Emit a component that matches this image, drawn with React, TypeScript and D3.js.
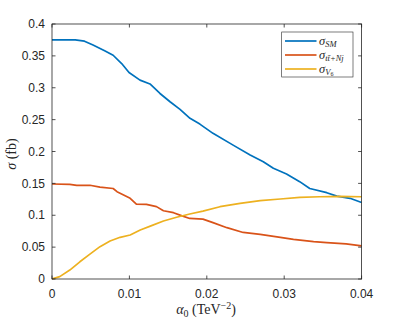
import React from "react";
import * as d3 from "d3";

const smAlpha = [0, 0.003, 0.0042, 0.0053, 0.0068, 0.0079, 0.009, 0.00995, 0.01137, 0.01266, 0.01395, 0.01525, 0.01654, 0.01783, 0.0191, 0.0208, 0.0234, 0.0256, 0.0273, 0.0286, 0.0303, 0.032, 0.0333, 0.0355, 0.0368, 0.0385, 0.04];
const smSigma = [0.375, 0.375, 0.373, 0.367, 0.358, 0.351, 0.338, 0.324, 0.312, 0.306, 0.291, 0.278, 0.266, 0.252, 0.243, 0.2285, 0.21, 0.1945, 0.184, 0.1736, 0.1647, 0.1527, 0.142, 0.1354, 0.13, 0.1266, 0.12];

const ttAlpha = [0, 0.0023, 0.0032, 0.0049, 0.0062, 0.0079, 0.0084, 0.0101, 0.0109, 0.0122, 0.0135, 0.0144, 0.0157, 0.0168, 0.0178, 0.0195, 0.0208, 0.0226, 0.0247, 0.0269, 0.0295, 0.0312, 0.0338, 0.0355, 0.038, 0.04];
const ttSigma = [0.149, 0.1485, 0.147, 0.147, 0.144, 0.142, 0.137, 0.1266, 0.1176, 0.117, 0.1135, 0.107, 0.104, 0.099, 0.095, 0.094, 0.0884, 0.0805, 0.073, 0.07, 0.0654, 0.0622, 0.0586, 0.057, 0.055, 0.052];

const vsAlpha = [0, 0.001, 0.0023, 0.0036, 0.0049, 0.0062, 0.0075, 0.0088, 0.0101, 0.0114, 0.0127, 0.0144, 0.0161, 0.0178, 0.0195, 0.0217, 0.0243, 0.0269, 0.0295, 0.032, 0.0346, 0.0372, 0.04];
const vsSigma = [0, 0.0037, 0.014, 0.027, 0.039, 0.0507, 0.0596, 0.0654, 0.069, 0.0769, 0.083, 0.091, 0.0968, 0.102, 0.1065, 0.1134, 0.1187, 0.1228, 0.1255, 0.128, 0.129, 0.1297, 0.129];

const xTicks = [0, 0.01, 0.02, 0.03, 0.04];
const xTickLabels = ["0", "0.01", "0.02", "0.03", "0.04"];
const yTicks = [0, 0.05, 0.1, 0.15, 0.2, 0.25, 0.3, 0.35, 0.4];
const yTickLabels = ["0", "0.05", "0.1", "0.15", "0.2", "0.25", "0.3", "0.35", "0.4"];

const colors = ["#0072BD", "#D95319", "#EDB120"];

export default function App() {
  const W = 399, H = 319;
  const L = 52, R = 361.6, T = 24, B = 279;
  const x = d3.scaleLinear().domain([0, 0.04]).range([L, R]);
  const y = d3.scaleLinear().domain([0, 0.4]).range([B, T]);
  const line = d3.line<[number, number]>().x(d => x(d[0])).y(d => y(d[1])).curve(d3.curveLinear);
  const series = [
    smAlpha.map((a, i) => [a, smSigma[i]] as [number, number]),
    ttAlpha.map((a, i) => [a, ttSigma[i]] as [number, number]),
    vsAlpha.map((a, i) => [a, vsSigma[i]] as [number, number]),
  ];
  const axisColor = "#262626";
  const tickLen = 3.5;
  const sans = "'Liberation Sans', Arial, Helvetica, sans-serif";
  const serif = "'Liberation Serif', 'DejaVu Serif', serif";
  const legendRows = [41, 55, 69];
  return (
    <svg width={W} height={H} style={{ position: "absolute", left: 0, top: 0 }}>
      <rect x={0} y={0} width={W} height={H} fill="#fff" />
      <rect x={L} y={T} width={R - L} height={B - T} fill="#fff" />
      <clipPath id="clip"><rect x={L} y={T - 2} width={R - L + 2} height={B - T + 4} /></clipPath>
      <g clipPath="url(#clip)">
        {series.map((s, i) => (
          <path key={i} d={line(s) || ""} fill="none" stroke={colors[i]} strokeWidth={1.7} strokeLinejoin="round" />
        ))}
      </g>
      <rect x={L} y={T} width={R - L} height={B - T} fill="none" stroke={axisColor} strokeWidth={0.8} />
      {xTicks.map((t, i) => (
        <g key={"xt" + i}>
          <line x1={x(t)} x2={x(t)} y1={B} y2={B - tickLen} stroke={axisColor} strokeWidth={0.8} />
          <line x1={x(t)} x2={x(t)} y1={T} y2={T + tickLen} stroke={axisColor} strokeWidth={0.8} />
          <text x={x(t)} y={298} textAnchor="middle" fontFamily={sans} fontSize={12} fill={axisColor}>{xTickLabels[i]}</text>
        </g>
      ))}
      {yTicks.map((t, i) => (
        <g key={"yt" + i}>
          <line x1={L} x2={L + tickLen} y1={y(t)} y2={y(t)} stroke={axisColor} strokeWidth={0.8} />
          <line x1={R} x2={R - tickLen} y1={y(t)} y2={y(t)} stroke={axisColor} strokeWidth={0.8} />
          <text x={45} y={y(t) + 4.2} textAnchor="end" fontFamily={sans} fontSize={12} fill={axisColor}>{yTickLabels[i]}</text>
        </g>
      ))}
      <text x={206} y={314} textAnchor="middle" fontFamily={serif} fontSize={14} fill={axisColor}>
        <tspan fontStyle="italic">α</tspan><tspan fontSize={10} dy={3}>0</tspan><tspan dy={-3}> (TeV</tspan><tspan fontSize={10} dy={-5.5}>−2</tspan><tspan dy={5.5}>)</tspan>
      </text>
      <text transform={`translate(16,154) rotate(-90)`} textAnchor="middle" fontFamily={serif} fontSize={14} fill={axisColor}>
        <tspan fontStyle="italic">σ</tspan><tspan> (fb)</tspan>
      </text>
      <rect x={281.7} y={32} width={71.3} height={45} fill="#fff" stroke={axisColor} strokeWidth={0.6} />
      {legendRows.map((ry, i) => (
        <line key={"ll" + i} x1={285} x2={316.5} y1={ry} y2={ry} stroke={colors[i]} strokeWidth={1.7} />
      ))}
      <text x={319} y={legendRows[0] + 3.5} fontFamily={serif} fontSize={12.5} fill={axisColor}>
        <tspan fontStyle="italic">σ</tspan><tspan fontSize={8.5} dy={2} fontStyle="italic">SM</tspan>
      </text>
      <text x={319} y={legendRows[1] + 3.5} fontFamily={serif} fontSize={12.5} fill={axisColor}>
        <tspan fontStyle="italic">σ</tspan><tspan fontSize={8.5} dy={2} fontStyle="italic">tt̄+Nj</tspan>
      </text>
      <text x={319} y={legendRows[2] + 3.5} fontFamily={serif} fontSize={12.5} fill={axisColor}>
        <tspan fontStyle="italic">σ</tspan><tspan fontSize={8.5} dy={2} fontStyle="italic">V</tspan><tspan fontSize={6} dy={1.5}>6</tspan>
      </text>
    </svg>
  );
}
